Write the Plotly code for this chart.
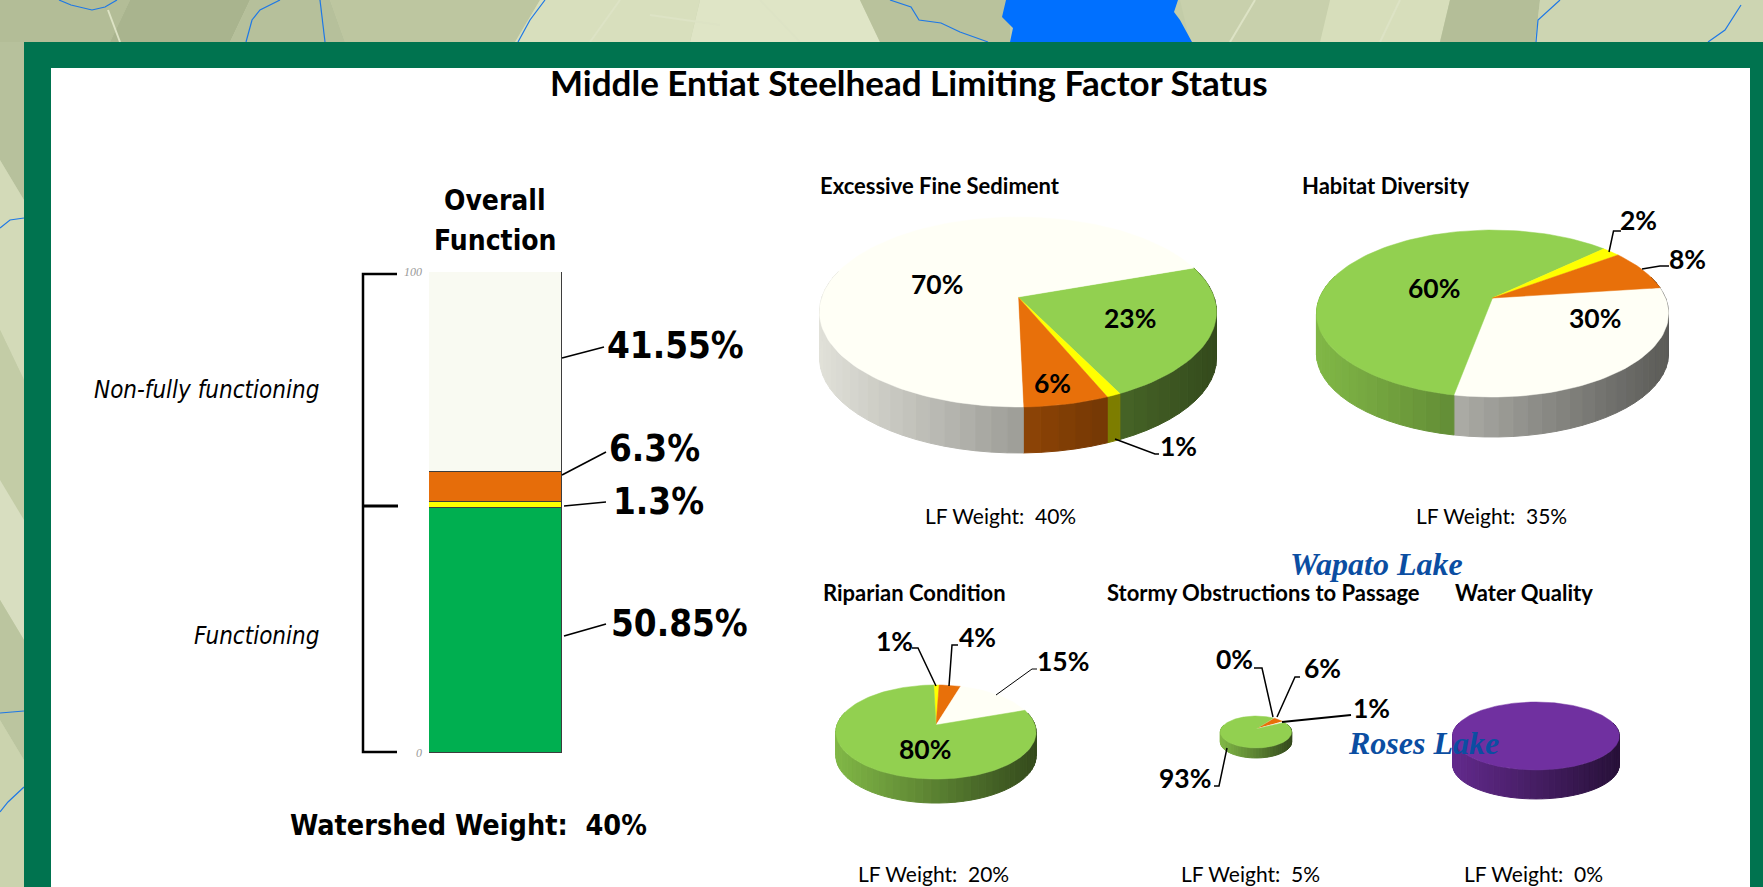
import math
import plotly.graph_objects as go

W, H = 1763, 887

# ---------- data ----------
bar_labels = ["Functioning", "Yellow", "Orange", "Non-fully functioning"]
bar_values = [50.85, 1.3, 6.3, 41.55]
bar_texts = ["50.85%", "1.3%", "6.3%", "41.55%"]

sediment_values = [23, 1, 6, 70]
diversity_values = [30, 60, 2, 8]
riparian_values = [1, 4, 15, 80]
passage_values = [6, 1, 93, 0]
quality_values = [100]

sediment_colors = ["#92D050", "#FFFF00", "#E8700A", "#FFFFF6"]
diversity_colors = ["#FFFFF6", "#92D050", "#FFFF00", "#E8700A"]
riparian_colors = ["#FFFF00", "#E8700A", "#FFFFF6", "#92D050"]
passage_colors = ["#E8700A", "#FFFFF6", "#92D050", "#FFFF00"]
quality_colors = ["#7030A0"]

# ---------- pie geometry: centre x, apex y, radius, S, k, depth, first angle ----------
PIES = [
    (sediment_values, sediment_colors, 1018, 297, 196, 92.6, 0.158, 46, 70.7),
    (diversity_values, diversity_colors, 1492.5, 298, 173, 80.6, 0.186, 40, 82.5),
    (riparian_values, riparian_colors, 936, 725, 99, 46, 0.149, 24, -1.5),
    (passage_values, passage_colors, 1256, 729, 35, 15.4, 0.1875, 10, 35),
    (quality_values, quality_colors, 1536, 733, 83, 33.7, 0.088, 29, 0),
]


def shade(hex_color, f):
    r, g, b = [int(hex_color[i:i + 2], 16) for i in (1, 3, 5)]
    return f"rgb({int(r * f)},{int(g * f)},{int(b * f)})"


def project(pie, deg):
    _, _, cx, cy, R, S, k, _, _ = pie
    t = math.radians(deg)
    X, Y = math.sin(t), math.cos(t)
    return cx + R * X / (1 + k * Y), cy - S * Y / (1 + k * Y)


def add_pie(fig, pie):
    values, colors, cx, cy, R, S, k, depth, start = pie
    total = sum(values)
    # walls
    a = start
    for v, c in zip(values, colors):
        sweep = 360 * v / total
        n = max(1, int(sweep / 4))
        for i in range(n):
            a1, a2 = a + sweep * i / n, a + sweep * (i + 1) / n
            if math.cos(math.radians((a1 + a2) / 2)) > 0.3:
                continue
            p1, p2 = project(pie, a1), project(pie, a2)
            t = ((p1[0] + p2[0]) / 2 - (cx - R)) / (2 * R)
            col = shade(c, 0.88 - 0.52 * t)
            fig.add_trace(go.Scatter(
                x=[p1[0], p2[0], p2[0], p1[0], p1[0]],
                y=[p1[1], p2[1], p2[1] + depth, p1[1] + depth, p1[1]],
                mode="lines", fill="toself", fillcolor=col,
                line=dict(color=col, width=1), hoverinfo="skip", showlegend=False))
        a += sweep
    # top faces
    a = start
    for v, c in zip(values, colors):
        sweep = 360 * v / total
        if sweep > 0:
            n = max(2, int(sweep / 2))
            pts = [project(pie, a + sweep * i / n) for i in range(n + 1)]
            xs = [cx] + [p[0] for p in pts] + [cx]
            ys = [cy] + [p[1] for p in pts] + [cy]
            if len(values) == 1:
                xs, ys = xs[1:-1], ys[1:-1]
            fig.add_trace(go.Scatter(
                x=xs, y=ys, mode="lines", fill="toself", fillcolor=c,
                line=dict(color=c, width=0.5), hoverinfo="skip", showlegend=False))
        a += sweep


fig = go.Figure()

# ---------- stacked bar on its own axes ----------
bar_colors = ["#00AF50", "#FFFF00", "#E66D0A", "#F9FAF2"]
for name, val, col in zip(bar_labels, bar_values, bar_colors):
    fig.add_trace(go.Bar(x=[0], y=[val], name=name, width=1, xaxis="x2", yaxis="y2",
                         marker=dict(color=col, line=dict(color="#3d3d3d", width=1.2)),
                         hoverinfo="skip", showlegend=False))

for pie in PIES:
    add_pie(fig, pie)

# ---------- background shapes ----------
shapes = []


def poly(points, color):
    d = "M" + " L".join(f"{x},{y}" for x, y in points) + " Z"
    shapes.append(dict(type="path", path=d, xref="x", yref="y", fillcolor=color,
                       line=dict(width=0), layer="below"))


def rect(x0, y0, x1, y1, color):
    shapes.append(dict(type="rect", x0=x0, y0=y0, x1=x1, y1=y1, xref="x", yref="y",
                       fillcolor=color, line=dict(width=0), layer="below"))


def line(points, color="#000000", width=1.5, layer="above"):
    d = "M" + " L".join(f"{x},{y}" for x, y in points)
    shapes.append(dict(type="path", path=d, xref="x", yref="y",
                       line=dict(color=color, width=width), layer=layer))


rect(0, 0, W, H, "#C3CCA8")
# terrain patches
poly([(0, 0), (130, 0), (110, 42), (0, 42)], "#B3BD97")
poly([(130, 0), (250, 0), (230, 42), (110, 42)], "#A9B48E")
poly([(250, 0), (330, 0), (345, 42), (230, 42)], "#B6C09B")
poly([(330, 0), (540, 0), (515, 42), (345, 42)], "#BDC6A0")
poly([(540, 0), (700, 0), (690, 42), (515, 42)], "#D8DFBD")
poly([(700, 0), (860, 0), (880, 42), (690, 42)], "#DFE5C6")
poly([(860, 0), (1010, 0), (1010, 42), (880, 42)], "#B9C29C")
poly([(1180, 0), (1330, 0), (1320, 42), (1190, 42)], "#C8D0AC")
poly([(1330, 0), (1450, 0), (1440, 42), (1320, 42)], "#D7DEBB")
poly([(1450, 0), (1540, 0), (1535, 42), (1440, 42)], "#B4BE98")
poly([(1540, 0), (1763, 0), (1763, 42), (1535, 42)], "#CDD5B2")
for seg in [[(120, 42), (108, 10)], [(620, 0), (590, 42)], [(760, 0), (800, 42)],
            [(1230, 42), (1255, 0)], [(1380, 42), (1400, 0)], [(650, 15), (720, 25)]]:
    line(seg, "#DDE3C5", 2, "below")
poly([(0, 42), (24, 42), (24, 200), (0, 160)], "#B7C19C")
poly([(0, 160), (24, 200), (24, 380), (0, 330)], "#D3DAB8")
poly([(0, 330), (24, 380), (24, 520), (0, 480)], "#C3CCA6")
poly([(0, 480), (24, 520), (24, 640), (0, 600)], "#D8DEC0")
poly([(0, 600), (24, 640), (24, 760), (0, 720)], "#BBC59F")
poly([(0, 720), (24, 760), (24, 887), (0, 887)], "#CBD3AE")
# lake and rivers
poly([(1006, 0), (1002, 17), (1013, 28), (1010, 42), (1192, 42), (1180, 20), (1174, 12), (1178, 0)], "#0070FF")
RIVER = "#1E78E6"
for seg in [[(59, 0), (71, 5), (92, 10), (105, 7), (117, 0)],
            [(246, 42), (252, 20), (260, 10), (280, 0)],
            [(320, 0), (325, 42)],
            [(518, 42), (530, 20), (545, 0)],
            [(890, 0), (911, 7), (919, 20), (941, 23), (960, 32), (988, 42)],
            [(1560, 0), (1538, 20), (1536, 42)],
            [(1741, 5), (1725, 30), (1708, 42)],
            [(0, 228), (10, 220), (24, 218)],
            [(0, 713), (24, 711)],
            [(0, 812), (8, 802), (24, 787)]]:
    line(seg, RIVER, 1.2, "below")
# frame
rect(24, 42, W, H, "#00734F")
rect(51, 68, 1750, H, "#FFFFFF")

# bracket
line([(397, 274), (363, 274), (363, 752), (397, 752)], "#000000", 2.5)
line([(363, 506), (398, 506)], "#000000", 3)
# bar leaders
line([(562, 358), (604, 347)], width=1.6)
line([(562, 475), (606, 452)], width=1.6)
line([(564, 506), (606, 502)], width=1.6)
line([(564, 636), (606, 624)], width=1.6)
# pie leaders
line([(1115, 439), (1155, 454), (1159, 454)])
line([(1609, 252), (1613.5, 231), (1621, 231)])
line([(1642, 269), (1660, 266), (1669, 266)])
line([(936, 686), (918, 648), (912, 648)])
line([(949, 686), (952, 645), (958, 645)])
line([(996, 695), (1032, 669), (1037, 669)], width=1)
line([(1273, 717), (1262, 668), (1254, 668)])
line([(1277, 717), (1295, 677), (1300, 677)])
line([(1282, 722), (1351, 715)], width=2.2)
line([(1227, 748), (1219, 786), (1214, 786)])

# ---------- text ----------
LAB = "Lato"
COND = "DejaVu Sans Condensed"
SERIF = "Liberation Serif"
ann = []


def text(x, y, s, size, family=LAB, weight="normal", style="normal", color="#000000", anchor="center"):
    ann.append(dict(x=x, y=y, xref="x", yref="y", text=s, showarrow=False, xanchor=anchor,
                    yanchor="middle", font=dict(family=family, size=size, color=color,
                                                weight=weight, style=style)))


text(908.5, 82, "Middle Entiat Steelhead Limiting Factor Status", 35, weight="bold")
text(495, 200, "Overall", 28, COND, "bold")
text(495, 240, "Function", 28, COND, "bold")
text(321, 390, "Non-fully functioning", 24, COND, style="italic", anchor="right")
text(321, 636, "Functioning", 24, COND, style="italic", anchor="right")
text(468, 825, "Watershed Weight:\u00a0\u00a040%", 28.5, COND, "bold")
text(605, 345, bar_texts[3], 36.5, COND, "bold", anchor="left")
text(607, 448, bar_texts[2], 36.5, COND, "bold", anchor="left")
text(611, 501, bar_texts[1], 36.5, COND, "bold", anchor="left")
text(609, 623, bar_texts[0], 36.5, COND, "bold", anchor="left")

for x, y, s in [(817.5, 185, "Excessive Fine Sediment"), (1299.5, 185, "Habitat Diversity"),
                (821, 592, "Riparian Condition"), (1105, 592, "Stormy Obstructions to Passage"),
                (1453, 592, "Water Quality")]:
    text(x, y, s, 22, weight="bold", anchor="left")

for x, y, s in [(1000, 515, "LF Weight:\u00a0\u00a040%"), (1491, 515, "LF Weight:\u00a0\u00a035%"),
                (933, 873, "LF Weight:\u00a0\u00a020%"), (1250, 873.5, "LF Weight:\u00a0\u00a05%"),
                (1533, 873.5, "LF Weight:\u00a0\u00a00%")]:
    text(x, y, s, 21)

for x, y, v in [(1130, 318, sediment_values[0]), (1178, 446, sediment_values[1]),
                (1052, 383, sediment_values[2]), (937, 284, sediment_values[3]),
                (1595, 318, diversity_values[0]), (1434, 288, diversity_values[1]),
                (1638, 220, diversity_values[2]), (1687, 259, diversity_values[3]),
                (894, 641, riparian_values[0]), (977, 637, riparian_values[1]),
                (1063, 661, riparian_values[2]), (925, 749, riparian_values[3]),
                (1322, 668, passage_values[0]), (1371, 708, passage_values[1]),
                (1185, 778, passage_values[2]), (1234, 659, passage_values[3])]:
    text(x, y, f"{v}%", 26.5, weight="bold")

text(1376, 564, "Wapato Lake", 32, SERIF, "bold", "italic", "#0B4EA2")
text(1423, 743, "Roses Lake", 32, SERIF, "bold", "italic", "#0B4EA2")

fig.update_layout(
    width=W, height=H, margin=dict(l=0, r=0, t=0, b=0, autoexpand=False),
    paper_bgcolor="#FFFFFF", plot_bgcolor="rgba(0,0,0,0)",
    barmode="stack", bargap=0, shapes=shapes, annotations=ann,
    xaxis=dict(domain=[0, 1], range=[0, W], visible=False, fixedrange=True),
    yaxis=dict(domain=[0, 1], range=[H, 0], visible=False, fixedrange=True),
    xaxis2=dict(domain=[429 / W, 562 / W], range=[-0.5, 0.5], visible=False, anchor="y2", fixedrange=True),
    yaxis2=dict(domain=[1 - 753 / H, 1 - 272 / H], range=[0, 100], anchor="x2",
                tickvals=[0, 100], ticktext=["0", "100"], showgrid=False, zeroline=False,
                showline=False, ticks="", ticklabelstandoff=6, fixedrange=True,
                tickfont=dict(family=SERIF, size=12, color="#999999", style="italic")),
)

fig.write_html("out.html", config=dict(displayModeBar=False),
               post_script="document.body.style.margin='0';document.body.style.overflow='hidden';")
